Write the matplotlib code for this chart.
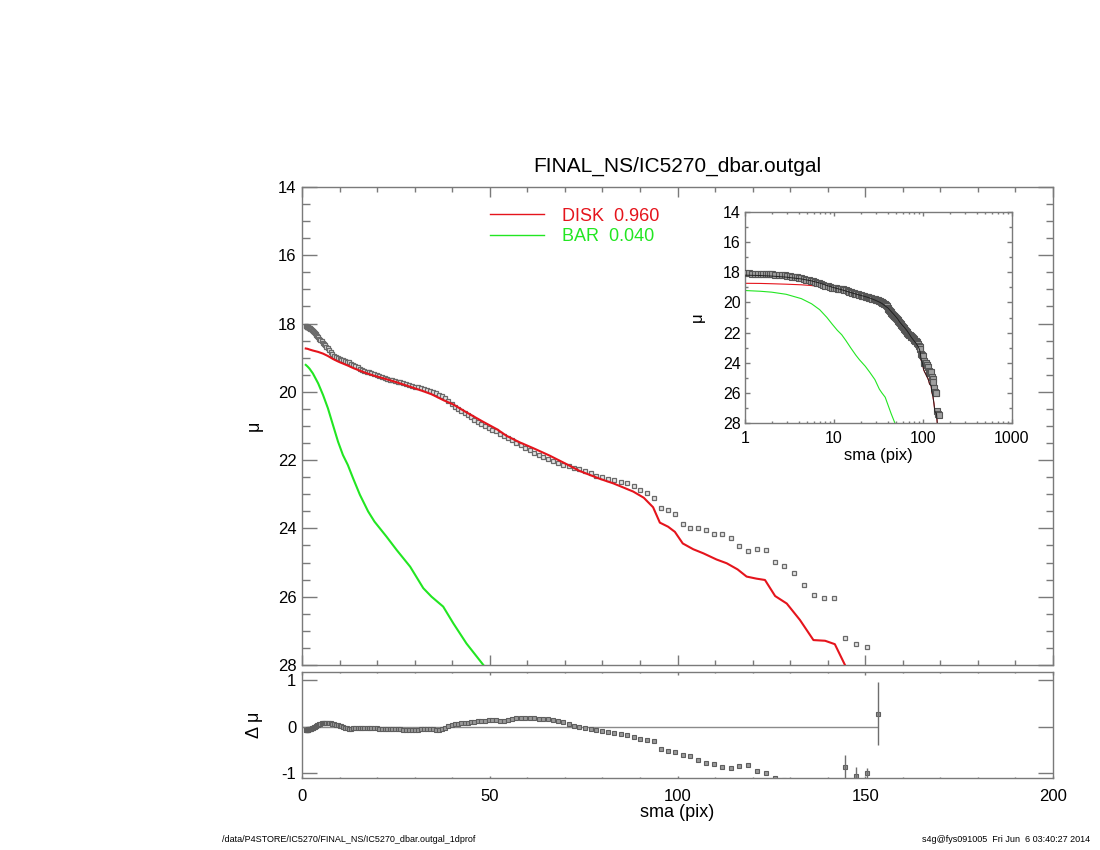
import numpy as np
import matplotlib
matplotlib.use('Agg')
import matplotlib.pyplot as plt
from matplotlib.lines import Line2D
from matplotlib.ticker import MultipleLocator, NullLocator

plt.rcParams['font.family'] = ['Liberation Sans', 'DejaVu Sans']
plt.rcParams['axes.unicode_minus'] = False

# observed profile: semi-major axis (pix), surface brightness, residual
sma = [1.0, 1.1, 1.2, 1.3, 1.4, 1.5, 1.6, 1.7, 1.8, 1.9,
       2.0, 2.2, 2.4, 2.6, 2.8, 3.0, 3.2, 3.4, 3.6, 3.8,
       4.0, 4.3, 4.6, 4.9, 5.2, 5.5, 5.8, 6.1, 6.4, 6.8,
       7.2, 7.6, 8.0, 8.5, 9.0, 9.5, 10.0, 10.5, 11.0, 11.5,
       12.0, 12.5, 13.0, 13.6, 14.2, 14.8, 15.4, 16.0, 16.6, 17.2,
       17.8, 18.5, 19.2, 19.9, 20.6, 21.3, 22.0, 22.7, 23.4, 24.1,
       24.8, 25.5, 26.2, 27.0, 27.8, 28.6, 29.4, 30.2, 31.0, 31.8,
       32.6, 33.4, 34.2, 35.0, 35.8, 36.6, 37.4, 38.2, 39.0, 40.0,
       40.8, 41.6, 42.4, 43.3, 44.1, 45.0, 45.9, 46.8, 47.8, 48.7,
       49.7, 50.7, 51.7, 52.8, 53.8, 54.9, 56.0, 57.1, 58.3, 59.4,
       60.6, 61.8, 63.1, 64.3, 65.6, 66.9, 68.3, 69.6, 71.0, 72.4,
       73.9, 75.4, 76.9, 78.4, 80.0, 81.6, 83.2, 84.9, 86.6, 88.3,
       90.1, 91.9, 93.7, 95.6, 97.4, 99.3, 101.4, 103.3, 105.5, 107.6,
       109.7, 111.9, 114.2, 116.4, 118.8, 121.2, 123.6, 126.0, 128.4, 131.0,
       133.7, 136.4, 139.0, 141.7, 144.6, 147.5, 150.5, 153.4]

mu = [18.08, 18.08, 18.09, 18.09, 18.10, 18.10, 18.11, 18.11, 18.12, 18.13,
      18.14, 18.15, 18.17, 18.19, 18.21, 18.23, 18.25, 18.28, 18.30, 18.33,
      18.36, 18.40, 18.44, 18.48, 18.52, 18.56, 18.60, 18.64, 18.68, 18.73,
      18.78, 18.84, 18.89, 18.94, 18.98, 19.01, 19.04, 19.06, 19.08, 19.10,
      19.12, 19.14, 19.17, 19.20, 19.24, 19.28, 19.32, 19.35, 19.38, 19.41,
      19.43, 19.46, 19.49, 19.52, 19.55, 19.57, 19.60, 19.62, 19.64, 19.66,
      19.68, 19.70, 19.72, 19.75, 19.77, 19.80, 19.82, 19.85, 19.87, 19.90,
      19.92, 19.95, 19.98, 20.01, 20.04, 20.08, 20.13, 20.19, 20.26, 20.36,
      20.43, 20.50, 20.56, 20.62, 20.68, 20.75, 20.81, 20.87, 20.93, 20.99,
      21.05, 21.11, 21.16, 21.22, 21.28, 21.35, 21.42, 21.49, 21.57, 21.64,
      21.71, 21.78, 21.85, 21.91, 21.97, 22.03, 22.08, 22.13, 22.18, 22.22,
      22.27, 22.32, 22.38, 22.45, 22.50, 22.54, 22.58, 22.63, 22.68, 22.75,
      22.86, 22.96, 23.10, 23.40, 23.46, 23.58, 23.87, 23.99, 23.99, 24.05,
      24.16, 24.16, 24.28, 24.52, 24.66, 24.60, 24.64, 24.98, 25.10, 25.31,
      25.66, 25.95, 26.04, 26.04, 27.21, 27.39, 27.47, 28.40]

resid = [-0.08, -0.08, -0.08, -0.08, -0.07, -0.07, -0.07, -0.06, -0.06, -0.05,
         -0.05, -0.04, -0.04, -0.03, -0.03, -0.02, -0.01, 0.00, 0.01, 0.02,
         0.03, 0.04, 0.05, 0.06, 0.07, 0.07, 0.07, 0.08, 0.08, 0.08,
         0.07, 0.07, 0.06, 0.05, 0.04, 0.03, 0.02, 0.01, -0.01, -0.02,
         -0.03, -0.04, -0.04, -0.03, -0.02, -0.02, -0.02, -0.02, -0.02, -0.02,
         -0.03, -0.03, -0.03, -0.03, -0.04, -0.04, -0.05, -0.05, -0.05, -0.06,
         -0.06, -0.06, -0.06, -0.07, -0.07, -0.07, -0.07, -0.07, -0.07, -0.06,
         -0.05, -0.05, -0.05, -0.06, -0.07, -0.07, -0.06, -0.03, 0.01, 0.03,
         0.05, 0.06, 0.07, 0.08, 0.08, 0.09, 0.10, 0.11, 0.12, 0.13,
         0.15, 0.15, 0.14, 0.13, 0.13, 0.14, 0.16, 0.18, 0.18, 0.18,
         0.18, 0.18, 0.17, 0.17, 0.16, 0.15, 0.13, 0.09, 0.05, 0.02,
         0.00, -0.03, -0.05, -0.07, -0.09, -0.11, -0.13, -0.16, -0.18, -0.22,
         -0.27, -0.28, -0.30, -0.48, -0.53, -0.54, -0.60, -0.63, -0.72, -0.77,
         -0.79, -0.87, -0.89, -0.84, -0.83, -0.95, -0.99, -1.09, -1.15, -1.25,
         -1.30, -1.30, -1.25, -1.35, -0.87, -1.06, -0.99, 0.28]

# error bars visible on the last four residual points
res_err_tail = [0.27, 0.20, 0.10, 0.67]

# model components on their own grid
model_sma = [1.0, 1.5, 2.0, 2.9, 4.3, 5.6, 6.9, 8.3, 9.6, 10.9,
             12.2, 13.6, 15.4, 17.6, 19.3, 22.5, 25.2, 28.8, 32.3, 34.5,
             37.6, 40.3, 43.8, 48.3, 52.0, 54.5, 58.0, 61.6, 66.0, 70.5,
             74.0, 79.4, 82.9, 88.2, 91.0, 93.5, 95.3, 97.5, 99.3, 101.4,
             104.2, 106.9, 110.4, 113.1, 116.0, 118.4, 121.0, 123.3, 126.0, 129.1,
             132.6, 136.2, 139.3, 141.9, 144.6, 147.0]
disk = [18.73, 18.74, 18.76, 18.79, 18.83, 18.88, 18.95, 19.04, 19.11, 19.17,
        19.23, 19.30, 19.38, 19.47, 19.53, 19.63, 19.72, 19.85, 19.98, 20.07,
        20.24, 20.37, 20.60, 20.88, 21.10, 21.29, 21.48, 21.65, 21.87, 22.12,
        22.32, 22.55, 22.68, 22.92, 23.10, 23.38, 23.83, 23.95, 24.10, 24.44,
        24.61, 24.73, 24.91, 25.02, 25.20, 25.41, 25.47, 25.51, 25.98, 26.20,
        26.68, 27.27, 27.29, 27.39, 28.00, 28.60]
bar = [19.21, 19.26, 19.32, 19.46, 19.75, 20.09, 20.48, 20.99, 21.46, 21.85,
       22.14, 22.53, 23.01, 23.50, 23.80, 24.24, 24.63, 25.12, 25.75, 26.00,
       26.29, 26.78, 27.37, 28.00, 28.60] + [np.nan] * 31

legend_labels = ['DISK  0.960', 'BAR  0.040']
inset_ticks = [1, 10, 100, 1000]
inset_ticklabels = ['1', '10', '100', '1000']

title = 'FINAL_NS/IC5270_dbar.outgal'
footer_left = '/data/P4STORE/IC5270/FINAL_NS/IC5270_dbar.outgal_1dprof'
footer_right = 's4g@fys091005  Fri Jun  6 03:40:27 2014'

red = '#e5141c'
green = '#22e622'
frame = '#7a7a7a'

# total model (disk + bar) for the inset
disk_a = np.array(disk)
bar_a = np.array(bar)
flux = 10 ** (-0.4 * disk_a) + np.nan_to_num(10 ** (-0.4 * bar_a))
total = -2.5 * np.log10(flux)


def style_frame(a):
    for s in a.spines.values():
        s.set_color(frame)
        s.set_linewidth(1.0)
    a.tick_params(which='both', direction='in', top=True, right=True,
                  colors=frame, labelcolor='black', width=1.0)


fig = plt.figure(figsize=(11, 8.5), dpi=100)

# main panel
ax = fig.add_axes([302 / 1100, 185 / 850, 751 / 1100, 478 / 850])
ax.plot(sma, mu, 's', ms=3.4, mfc='#e6e6e6', mec='#6a6a6a', mew=0.9, zorder=2)
ax.plot(model_sma, disk, color=red, lw=1.5, zorder=3)
ax.plot(model_sma, bar, color=green, lw=1.5, zorder=3)
ax.set_xlim(0, 200)
ax.set_ylim(28, 14)
ax.xaxis.set_major_locator(MultipleLocator(50))
ax.xaxis.set_minor_locator(MultipleLocator(10))
ax.yaxis.set_major_locator(MultipleLocator(2))
ax.yaxis.set_minor_locator(MultipleLocator(0.5))
style_frame(ax)
ax.tick_params(axis='x', labelbottom=False)
ax.tick_params(axis='y', which='major', length=10.8, labelsize=12, pad=4)
ax.tick_params(axis='y', which='minor', length=5.4)
ax.tick_params(axis='x', which='major', length=6.9)
ax.tick_params(axis='x', which='minor', length=3.5)
ax.set_ylabel('μ', fontsize=13)
ax.yaxis.set_label_coords(-0.052, 0.5)

handles = [Line2D([], [], color=red, lw=1.0), Line2D([], [], color=green, lw=1.0)]
ax.legend(handles, legend_labels, loc='upper left', bbox_to_anchor=(0.25, 0.957),
          frameon=False, fontsize=13, handlelength=3.0, handletextpad=1.0,
          labelspacing=0.2, borderpad=0, borderaxespad=0, labelcolor=[red, green])

fig.text(677 / 1100, 1 - 166 / 850, title, ha='center', va='center', fontsize=15)

# residual panel
res = fig.add_axes([302 / 1100, 72 / 850, 751 / 1100, 106 / 850])
res.hlines(0, 0, sma[-1], color='#8a8a8a', lw=1.0, zorder=1)
res.plot(sma, resid, 's', ms=2.7, mfc='#9a9a9a', mec='#5e5e5e', mew=0.8, zorder=2)
res.errorbar(sma[-4:], resid[-4:], yerr=res_err_tail, fmt='none',
             ecolor='#6e6e6e', elinewidth=1.0, capsize=0, zorder=2)
res.set_xlim(0, 200)
res.set_ylim(-1.1, 1.17)
res.xaxis.set_major_locator(MultipleLocator(50))
res.xaxis.set_minor_locator(MultipleLocator(10))
res.set_yticks([-1, 0, 1])
res.yaxis.set_minor_locator(NullLocator())
style_frame(res)
res.tick_params(axis='y', which='major', length=10.8, labelsize=12, pad=4)
res.tick_params(axis='x', which='major', length=1.8, labelsize=12, pad=8)
res.tick_params(axis='x', which='minor', length=1.0)
res.set_ylabel('Δ μ', fontsize=13)
res.yaxis.set_label_coords(-0.052, 0.5)
res.set_xlabel('sma (pix)', fontsize=13, labelpad=0)

# inset, logarithmic radius
ins = fig.add_axes([745 / 1100, 427 / 850, 267 / 1100, 211 / 850])
ins.plot(model_sma, disk, color=red, lw=0.8, zorder=2)
ins.plot(model_sma, bar, color=green, lw=0.8, zorder=2)
ins.plot(sma, mu, 's', ms=4.0, mfc='#a0a0a0', mec='#555555', mew=0.8, zorder=3)
ins.plot(model_sma, total, color='#222222', lw=0.7, zorder=4)
ins.set_xscale('log')
ins.set_xlim(1, 1000)
ins.set_ylim(28, 14)
ins.set_xticks(inset_ticks, labels=inset_ticklabels)
ins.yaxis.set_major_locator(MultipleLocator(2))
ins.yaxis.set_minor_locator(MultipleLocator(1))
style_frame(ins)
ins.tick_params(axis='y', which='major', length=3.8, labelsize=11.5, pad=3)
ins.tick_params(axis='y', which='minor', length=1.9)
ins.tick_params(axis='x', which='major', length=3.0, labelsize=11.5, pad=6)
ins.tick_params(axis='x', which='minor', length=1.5)
ins.set_ylabel('μ', fontsize=12)
ins.yaxis.set_label_coords(-0.15, 0.5)
ins.set_xlabel('sma (pix)', fontsize=12, labelpad=1)

fig.text(222 / 1100, 1 - 840 / 850, footer_left, ha='left', va='center', fontsize=6.5)
fig.text(1090 / 1100, 1 - 840 / 850, footer_right, ha='right', va='center', fontsize=6.5)

fig.savefig('out.png', dpi=100)
